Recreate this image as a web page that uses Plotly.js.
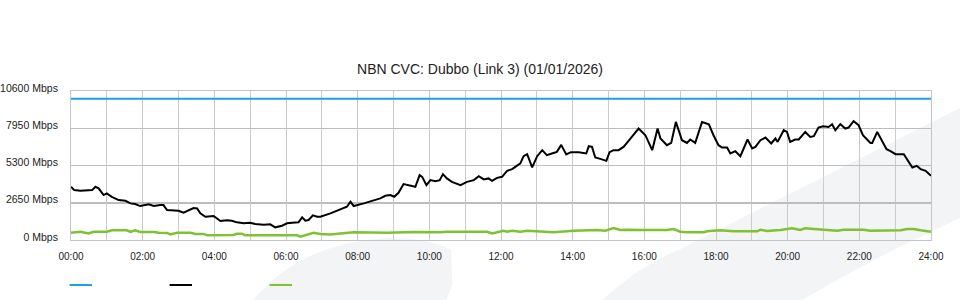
<!DOCTYPE html>
<html>
<head>
<meta charset="utf-8">
<script src="https://cdn.plot.ly/plotly-3.0.1.min.js"></script>
<style>html,body{margin:0;padding:0;background:#fff;}#chart{width:960px;height:300px;}</style>
</head>
<body>
<div id="chart"></div>
<script>
var chartTitle = "NBN CVC: Dubbo (Link 3) (01/01/2026)";
var xTickVals = [0,2,4,6,8,10,12,14,16,18,20,22,24];
var xTickText = ["00:00","02:00","04:00","06:00","08:00","10:00","12:00","14:00","16:00","18:00","20:00","22:00","24:00"];
var yTickVals = [0,2650,5300,7950,10600];
var yTickText = ["0 Mbps","2650 Mbps","5300 Mbps","7950 Mbps","10600 Mbps"];

var capacityHours = [0,24];
var capacityMbps = [10050,10050];

var trafficHours = [0,0.09,0.26,0.45,0.59,0.68,0.77,0.91,1.00,1.14,1.33,1.52,1.66,1.79,1.93,2.17,2.31,2.49,2.58,2.68,2.86,3.00,3.14,3.28,3.42,3.52,3.61,3.75,3.98,4.17,4.35,4.49,4.63,4.82,5.00,5.14,5.38,5.56,5.70,5.89,6.03,6.17,6.35,6.45,6.54,6.63,6.75,6.87,6.96,7.24,7.52,7.70,7.80,7.89,8.17,8.45,8.63,8.77,8.91,9.02,9.14,9.28,9.47,9.61,9.73,9.80,9.92,10.03,10.17,10.29,10.38,10.49,10.63,10.77,10.87,11.05,11.24,11.38,11.52,11.65,11.75,11.89,12.03,12.17,12.31,12.40,12.54,12.63,12.73,12.87,13.01,13.15,13.28,13.42,13.56,13.68,13.82,13.95,14.17,14.38,14.45,14.54,14.63,14.77,14.94,15.03,15.14,15.28,15.42,15.56,15.70,15.84,15.89,16.03,16.22,16.37,16.45,16.63,16.75,16.88,17.05,17.19,17.28,17.42,17.61,17.80,17.93,18.07,18.17,18.31,18.40,18.54,18.68,18.88,19.01,19.10,19.24,19.38,19.54,19.66,19.72,19.89,19.98,20.07,20.21,20.31,20.49,20.63,20.73,20.86,20.99,21.14,21.24,21.33,21.47,21.61,21.70,21.84,21.98,22.10,22.31,22.36,22.50,22.59,22.76,22.87,23.01,23.24,23.34,23.48,23.60,23.71,23.85,24.00];
var trafficMbps = [3784,3550,3500,3500,3550,3784,3671,3195,3316,3074,2840,2790,2606,2556,2414,2535,2414,2485,2485,2130,2080,2080,1938,2080,2272,2250,1896,1654,1704,1349,1399,1370,1257,1186,1228,1136,1086,1115,902,1015,1186,1228,1257,1612,1370,1420,1754,1654,1654,1896,2180,2364,2719,2414,2606,2840,2961,3145,3195,3074,3358,3976,3834,3784,4615,4494,3905,4260,4189,4260,4686,4381,4139,4026,3905,4139,4260,4544,4310,4381,4210,4423,4494,4920,5041,5204,5446,5964,6106,5162,5964,6390,6035,6156,6269,6766,6085,6248,6248,6156,6674,6624,5872,5772,5630,6248,6390,6390,6624,7050,7455,7931,7810,7455,6390,7931,7221,6745,6908,8399,7100,6908,7150,6908,8399,8236,7455,6745,6582,6582,6156,6319,5964,7150,6511,6624,7100,7292,6866,7221,6979,7810,7689,6979,7150,7150,7689,7334,7384,8002,8094,8044,8236,7810,8236,7931,8002,8449,8165,7455,6908,6908,7689,7292,6461,6319,6106,6106,5680,5162,5275,5041,4920,4565];

var uploadHours = [0.00,0.26,0.49,0.63,1.00,1.14,1.56,1.66,1.79,1.93,2.31,2.45,2.68,2.77,2.96,3.33,3.47,3.70,3.80,4.54,4.63,4.77,4.86,6.31,6.40,6.54,6.77,6.96,7.24,7.52,7.89,8.82,9.56,10.31,10.49,11.61,11.75,12.07,12.17,12.31,12.54,12.73,13.28,13.47,14.03,14.40,14.68,14.91,15.14,15.33,15.52,15.89,16.26,16.63,16.82,17.00,17.19,17.66,17.75,18.12,18.49,19.15,19.24,19.42,19.80,20.12,20.35,20.49,20.73,21.19,21.38,21.56,22.12,22.31,23.15,23.34,23.52,23.71,24.00];
var uploadMbps = [520,590,470,590,590,690,690,570,690,570,570,520,500,400,520,520,430,430,330,360,450,450,330,330,240,330,520,430,400,470,550,520,570,550,590,590,470,660,590,660,590,660,570,550,660,710,710,660,850,710,730,710,710,710,780,590,550,550,620,690,620,620,730,640,710,830,710,830,780,730,660,730,730,660,690,780,780,690,590];

var seriesColors = ["#1da1e4", "#000000", "#7fc131"];

var traces = [
  {x: capacityHours, y: capacityMbps, type: "scatter", mode: "lines", line: {color: seriesColors[0], width: 2}, hoverinfo: "skip"},
  {x: uploadHours, y: uploadMbps, type: "scatter", mode: "lines", line: {color: seriesColors[2], width: 2.5}, hoverinfo: "skip"},
  {x: trafficHours, y: trafficMbps, type: "scatter", mode: "lines", line: {color: seriesColors[1], width: 2}, hoverinfo: "skip"}
];

function px(x){ return ((x - 70.7) / 860).toFixed(4); }
function py(y){ return ((240 - y) / 149.3).toFixed(4); }

var wmA = "M" + px(253) + "," + py(300) + " Q" + px(300) + "," + py(243) + " " + px(387) + "," + py(238) +
          " Q" + px(430) + "," + py(238) + " " + px(451) + "," + py(250) + " L" + px(452) + "," + py(285) +
          " L" + px(446) + "," + py(300) + " Z";
var wmB = "M" + px(602) + "," + py(300) + " Q" + px(640) + "," + py(265) + " " + px(678) + "," + py(250) +
          " L" + px(965) + "," + py(105) + " L" + px(965) + "," + py(215) + " L" + px(893) + "," + py(250) +
          " Q" + px(845) + "," + py(275) + " " + px(802) + "," + py(300) + " Z";

var shapes = [
  {type: "path", xref: "paper", yref: "paper", path: wmA, fillcolor: "#d2d6de", opacity: 0.28, line: {width: 0}, layer: "between"},
  {type: "path", xref: "paper", yref: "paper", path: wmB, fillcolor: "#d2d6de", opacity: 0.28, line: {width: 0}, layer: "between"}
];
var swatchX = [0, 100, 200];
for (var i = 0; i < 3; i++) {
  shapes.push({type: "line", xref: "paper", yref: "paper", xsizemode: "pixel", ysizemode: "pixel",
    xanchor: 0, yanchor: 0, x0: swatchX[i] - 1.4, x1: swatchX[i] + 21, y0: -45, y1: -45,
    line: {color: seriesColors[i], width: 2}});
}

var layout = {
  width: 960, height: 300,
  margin: {l: 70.7, r: 29.3, t: 90.7, b: 60},
  paper_bgcolor: "#ffffff",
  plot_bgcolor: "rgba(0,0,0,0)",
  showlegend: false,
  font: {family: "Liberation Sans, Arial, sans-serif", size: 10, color: "#222"},
  title: {text: chartTitle, x: 0.5, xanchor: "center", y: 1 - 69.5/300, yanchor: "middle",
          font: {size: 14, color: "#222", family: "Liberation Sans, Arial, sans-serif"}},
  xaxis: {range: [0, 24], tickmode: "array", tickvals: xTickVals, ticktext: xTickText,
          showgrid: true, gridcolor: "#c8c8c8", gridwidth: 1,
          minor: {dtick: 1, tick0: 0, showgrid: true, gridcolor: "#cccccc", gridwidth: 1},
          showline: true, linecolor: "#c4c4c4", linewidth: 1, mirror: true,
          zeroline: false, ticks: "", ticklabelstandoff: 7, fixedrange: true,
          tickfont: {size: 10, color: "#222"}},
  yaxis: {range: [0, 10600], tickmode: "array", tickvals: yTickVals, ticktext: yTickText,
          showgrid: true, gridcolor: "#bdbdbd", gridwidth: 1.5,
          showline: true, linecolor: "#c4c4c4", linewidth: 1, mirror: true,
          zeroline: false, ticks: "", ticklabelstandoff: 10, ticklabelshift: -3, fixedrange: true,
          tickfont: {size: 10.5, color: "#222"}},
  shapes: shapes
};

Plotly.newPlot("chart", traces, layout, {displayModeBar: false, staticPlot: true});
</script>
</body>
</html>
